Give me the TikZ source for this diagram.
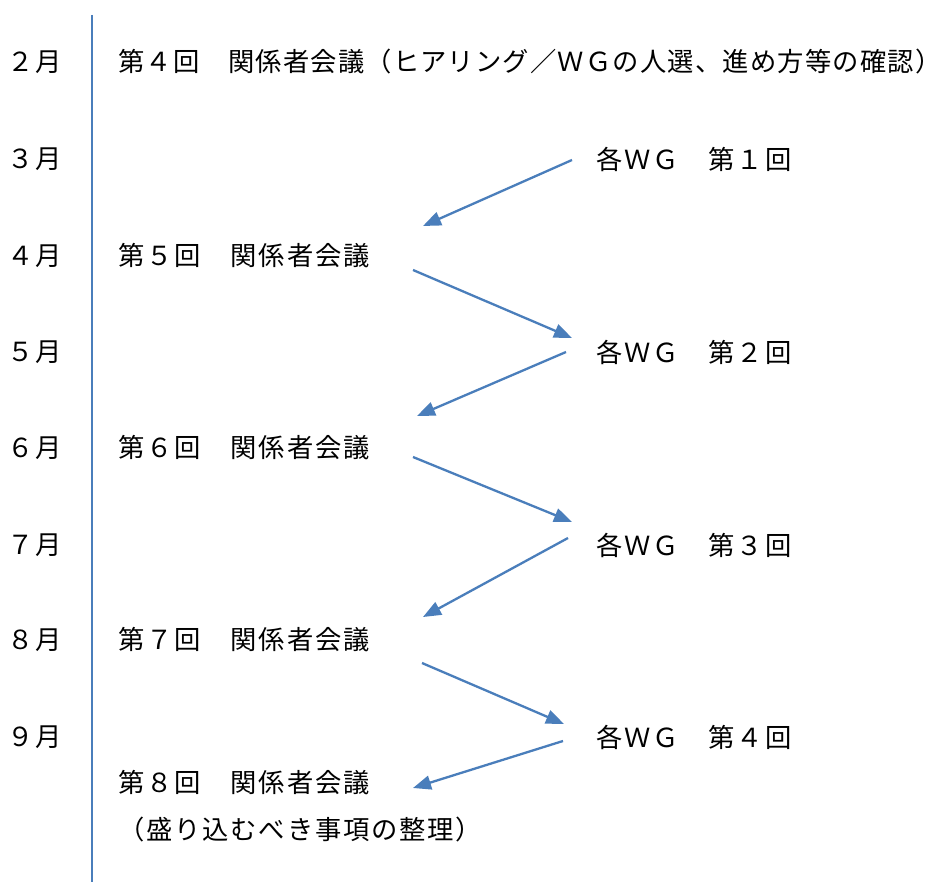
\documentclass[tikz,border=0pt]{standalone}
\usepackage{fontspec}
\setmainfont[LetterSpace=7]{Noto Sans CJK JP}
\newfontfamily\jptight[LetterSpace=4.5]{Noto Sans CJK JP}
\usetikzlibrary{arrows.meta}
\definecolor{arrowblue}{RGB}{74,126,187}
\begin{document}
\begin{tikzpicture}[x=1pt,y=-1pt,
  lbl/.style={anchor=west,inner sep=0pt,font=\fontsize{26.3}{30}\selectfont},
  mon/.style={anchor=center,inner sep=0pt,font=\fontsize{26.3}{30}\selectfont},
  flow/.style={draw=arrowblue,line width=2.3pt,-{Triangle[length=18pt,width=14pt]}}]
\useasboundingbox[fill=white] (0,0) rectangle (946,882);
% timeline
\coordinate (top) at (92,15);
\coordinate (bot) at (92,882);
\draw[arrowblue,line width=1.6pt] (top) -- (bot);
% months
\node[mon] (m2) at (35,62) {２月};
\node[mon] (m3) at (35,159) {３月};
\node[mon] (m4) at (35,256) {４月};
\node[mon] (m5) at (35,352) {５月};
\node[mon] (m6) at (35,448) {６月};
\node[mon] (m7) at (35,545) {７月};
\node[mon] (m8) at (35,640) {８月};
\node[mon] (m9) at (35,737) {９月};
% left meetings
\node[lbl,font=\jptight\fontsize{26.3}{30}\selectfont] (k4) at (118,62) {第４回　関係者会議（ヒアリング／ＷＧの人選、進め方等の確認）};
\node[lbl] (k5) at (118,256) {第５回　関係者会議};
\node[lbl] (k6) at (118,448) {第６回　関係者会議};
\node[lbl] (k7) at (118,640) {第７回　関係者会議};
\node[lbl] (k8) at (118,783) {第８回　関係者会議};
\node[lbl] (k8b) at (118,830) {（盛り込むべき事項の整理）};
% WG
\node[lbl] (w1) at (596,159) {各ＷＧ　第１回};
\node[lbl] (w2) at (596,352) {各ＷＧ　第２回};
\node[lbl] (w3) at (596,545) {各ＷＧ　第３回};
\node[lbl] (w4) at (596,737) {各ＷＧ　第４回};
% arrow end points
\coordinate (a1s) at (572,160); \coordinate (a1e) at (423,226);
\coordinate (a2s) at (413,270); \coordinate (a2e) at (572,338);
\coordinate (a3s) at (566,352); \coordinate (a3e) at (417,416);
\coordinate (a4s) at (413,457); \coordinate (a4e) at (572,522);
\coordinate (a5s) at (568,538); \coordinate (a5e) at (423,617);
\coordinate (a6s) at (422,663); \coordinate (a6e) at (564,724);
\coordinate (a7s) at (563,741); \coordinate (a7e) at (413,788);
\draw[flow] (a1s) -- (a1e);
\draw[flow] (a2s) -- (a2e);
\draw[flow] (a3s) -- (a3e);
\draw[flow] (a4s) -- (a4e);
\draw[flow] (a5s) -- (a5e);
\draw[flow] (a6s) -- (a6e);
\draw[flow] (a7s) -- (a7e);
\end{tikzpicture}
\end{document}
